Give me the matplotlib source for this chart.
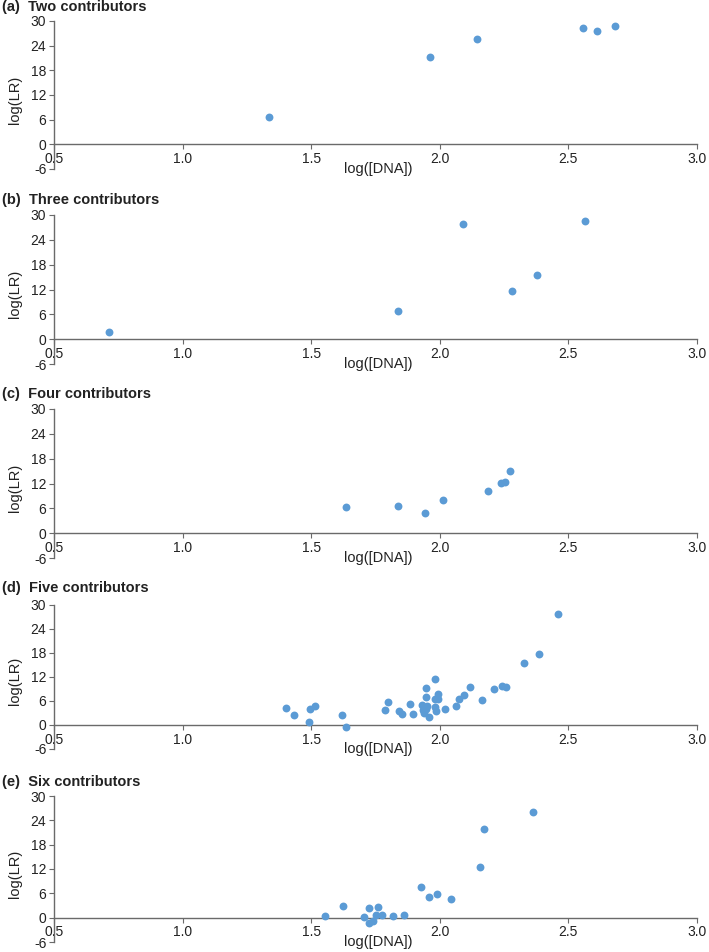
import matplotlib.pyplot as plt

plt.rcParams['font.family'] = ['Liberation Sans', 'DejaVu Sans']
plt.rcParams['axes.unicode_minus'] = False

# values: log([DNA]) vs log(LR)
titles = ['(a)  Two contributors', '(b)  Three contributors', '(c)  Four contributors',
          '(d)  Five contributors', '(e)  Six contributors']

two_x = [1.336, 1.963, 2.143, 2.556, 2.612, 2.680]
two_y = [6.7, 21.3, 25.6, 28.4, 27.6, 28.9]

three_x = [0.713, 1.839, 2.091, 2.280, 2.378, 2.566]
three_y = [1.7, 6.9, 27.9, 11.6, 15.6, 28.6]

four_x = [1.635, 1.839, 1.944, 2.014, 2.187, 2.239, 2.255, 2.273]
four_y = [6.3, 6.5, 4.8, 7.9, 10.3, 12.2, 12.3, 14.9]

five_x = [1.402, 1.432, 1.491, 1.497, 1.515, 1.618, 1.634, 1.788, 1.799, 1.842,
          1.852, 1.884, 1.897, 1.930, 1.933, 1.937, 1.945, 1.945, 1.947, 1.951,
          1.959, 1.981, 1.982, 1.983, 1.987, 1.992, 1.994, 2.021, 2.064, 2.073,
          2.093, 2.116, 2.164, 2.210, 2.241, 2.256, 2.327, 2.384, 2.461]
five_y = [4.2, 2.5, 0.7, 4.0, 4.8, 2.5, -0.4, 3.8, 5.8, 3.6,
          2.7, 5.2, 2.8, 5.0, 3.7, 2.9, 9.2, 7.1, 4.0, 4.7,
          2.1, 11.4, 6.6, 4.6, 3.6, 6.5, 7.8, 4.0, 4.8, 6.4,
          7.4, 9.6, 6.2, 9.0, 9.8, 9.4, 15.6, 17.8, 27.8]

six_x = [1.552, 1.624, 1.707, 1.723, 1.723, 1.742, 1.761, 1.752, 1.775, 1.818,
         1.861, 1.928, 1.957, 1.989, 2.044, 2.158, 2.171, 2.362]
six_y = [0.4, 2.9, 0.2, 2.4, -1.2, -0.8, 2.6, 0.6, 0.6, 0.4,
         0.7, 7.6, 5.0, 5.8, 4.7, 12.5, 21.9, 26.1]

xs = [two_x, three_x, four_x, five_x, six_x]
ys = [two_y, three_y, four_y, five_y, six_y]

x_ticks = [0.5, 1.0, 1.5, 2.0, 2.5, 3.0]
y_ticks = [-6, 0, 6, 12, 18, 24, 30]

W, H = 709, 952
# pixel rows of the top (30) and bottom (-6) of each panel, and of each title
panel_px = [(21, 169), (215, 364), (409, 558), (605, 749), (796, 942)]
title_px = [7, 200, 394, 588, 782]

fig = plt.figure(figsize=(W / 100, H / 100), dpi=100)
axis_col = '#6a6a6a'
text_col = '#222222'

for i in range(5):
    top, bot = panel_px[i]
    ax = fig.add_axes([54 / W, 1 - bot / H, 643 / W, (bot - top) / H])
    ax.scatter(xs[i], ys[i], s=32, color='#5b9bd5', linewidths=0, zorder=3)
    ax.set_xlim(0.5, 3.0)
    ax.set_ylim(-6, 30)
    ax.set_xticks(x_ticks)
    ax.set_xticklabels(['%.1f' % v for v in x_ticks])
    ax.set_yticks(y_ticks)
    ax.spines['top'].set_visible(False)
    ax.spines['right'].set_visible(False)
    ax.spines['bottom'].set_position(('data', 0))
    for s in ['left', 'bottom']:
        ax.spines[s].set_color(axis_col)
        ax.spines[s].set_linewidth(1.0)
    ax.tick_params(axis='both', colors=axis_col, labelcolor=text_col,
                   labelsize=10, length=3.5, width=0.8, direction='out')
    ax.tick_params(axis='x', pad=2)
    ax.tick_params(axis='y', pad=2)
    ax.set_ylabel('log(LR)', fontsize=10.5, color=text_col)
    ax.yaxis.set_label_coords(-0.05, 0.47)
    ax.text(1.76, -6.0, 'log([DNA])', ha='center', va='center',
            fontsize=10.5, color=text_col)
    fig.text(2 / W, 1 - title_px[i] / H, titles[i], ha='left', va='center',
             fontsize=10.5, fontweight='bold', color=text_col)

fig.savefig('out.png', dpi=100)
